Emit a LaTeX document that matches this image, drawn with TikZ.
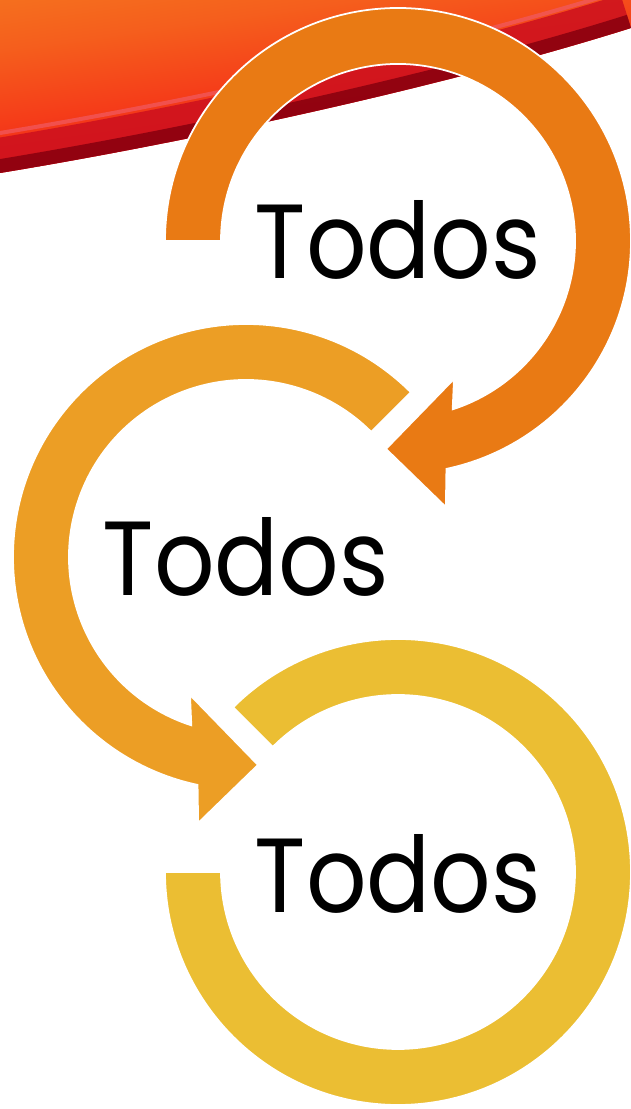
\documentclass[tikz,border=0pt]{standalone}
\usepackage{fontspec}
\setmainfont{Poppins}
\usepackage{tikz}

\definecolor{ringone}{RGB}{233,122,20}
\definecolor{ringtwo}{RGB}{236,158,37}
\definecolor{ringthree}{RGB}{235,190,51}
\definecolor{streakorange}{RGB}{246,146,34}
\definecolor{streakred}{RGB}{244,30,22}
\definecolor{streakpink}{RGB}{240,90,100}
\definecolor{streakmid}{RGB}{205,16,30}
\definecolor{streakdark}{RGB}{135,0,14}

\pgfdeclareverticalshading{streakfade}{100bp}{color(0bp)=(streakred);
  color(40bp)=(streakred); color(68bp)=(streakorange!55!streakred);
  color(100bp)=(streakorange)}

\begin{document}
\begin{tikzpicture}[x=0.02cm,y=0.02cm,
  ring/.style={draw=white, line width=1pt},
  word/.style={font=\fontsize{60}{64}\selectfont, xscale=0.9,
    anchor=base, inner sep=0pt}]

  \def\rout{233}
  \def\rin{177}
  \def\rtip{208.3}

  \useasboundingbox (0,0) rectangle (631,1109);

  % streak
  \begin{scope}
    \clip (0,1109) -- (631,1109) -- (631,1081)
      .. controls (450,1024) and (200,969) .. (0,936) -- cycle;
    \shade[shading=streakfade, shading angle=8] (0,920) rectangle (631,1109);
    \draw[line width=0.08cm, streakpink, opacity=0.7, yshift=0.8cm] (631,1081)
      .. controls (450,1024) and (200,969) .. (0,936);
    \foreach \w/\c in {1.4cm/streakmid, 0.55cm/streakdark}
      \draw[line width=\w, \c, opacity=0.85] (631,1081)
        .. controls (450,1024) and (200,969) .. (0,936);
  \end{scope}

  % centres
  \coordinate (c1) at (398,868);
  \coordinate (c2) at (246,552);
  \coordinate (c3) at (398,237);

  % rings
  \path[ring, fill=ringthree] ([shift={(180:\rout)}]c3)
    arc[start angle=180, end angle=495, radius=\rout]
    -- ([shift={(135:\rin)}]c3)
    arc[start angle=495, end angle=180, radius=\rin] -- cycle;

  \path[ring, fill=ringtwo] ([shift={(45:\rout)}]c2)
    arc[start angle=45, end angle=258, radius=\rout]
    -- ([shift={(259.8:270.3)}]c2)
    -- ([shift={(273.3:\rtip)}]c2)
    -- ([shift={(247.9:148.9)}]c2)
    -- ([shift={(252:\rin)}]c2)
    arc[start angle=252, end angle=45, radius=\rin] -- cycle;

  \path[ring, fill=ringone] ([shift={(180:\rout)}]c1)
    arc[start angle=180, end angle=-78, radius=\rout]
    -- ([shift={(-79.8:270.3)}]c1)
    -- ([shift={(-93.3:\rtip)}]c1)
    -- ([shift={(-67.9:148.9)}]c1)
    -- ([shift={(-72:\rin)}]c1)
    arc[start angle=-72, end angle=180, radius=\rin] -- cycle;

  % labels
  \node[word] (todos1) at ([shift={(0,-38)}]c1) {Todos};
  \node[word] (todos2) at ([shift={(0,-39)}]c2) {Todos};
  \node[word] (todos3) at ([shift={(0,-41)}]c3) {Todos};

\end{tikzpicture}
\end{document}
